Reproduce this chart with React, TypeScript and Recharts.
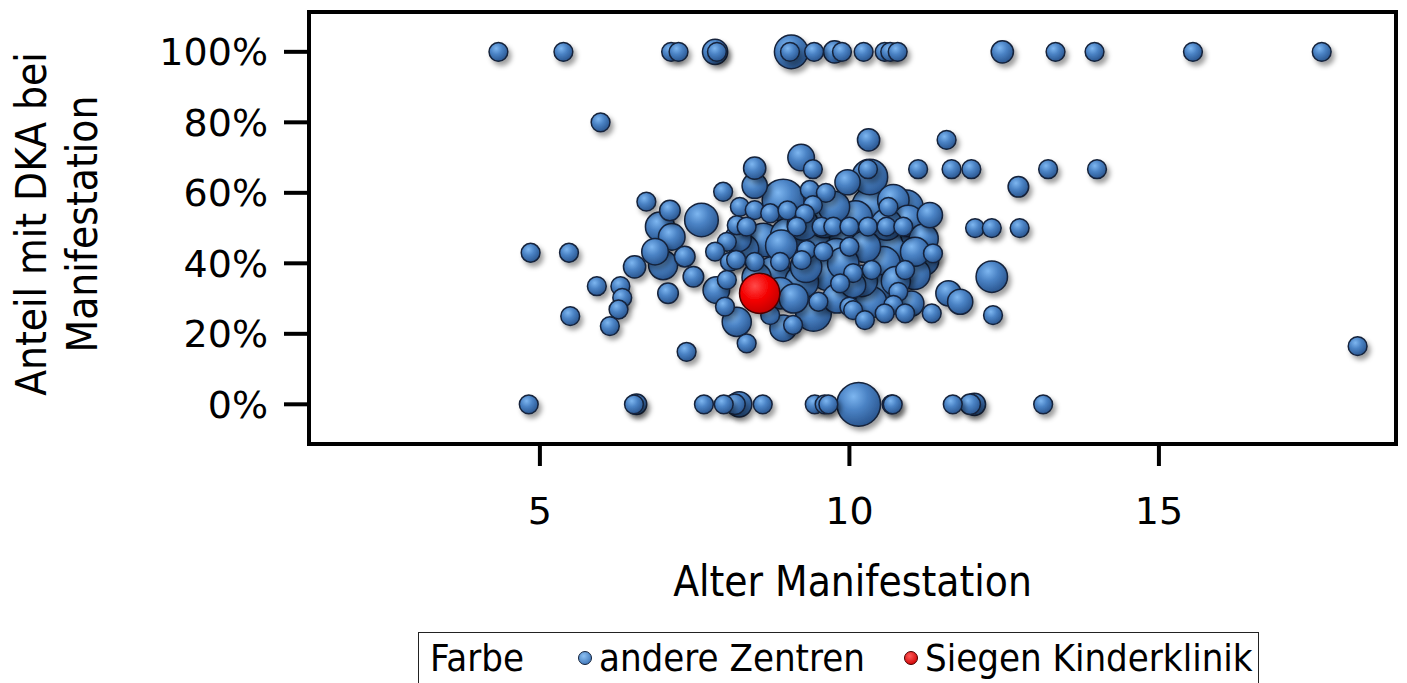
import { ScatterChart, Scatter, XAxis, YAxis, ZAxis, ReferenceArea, Legend } from 'recharts'

// [Alter bei Manifestation, Anteil DKA in %, Anzahl Patienten]
const andereZentren: [number, number, number][] = [
  // 100 %
  [4.33, 100, 5], [5.38, 100, 5], [7.12, 100, 5], [7.24, 100, 5], [7.83, 100, 9], [7.86, 100, 5],
  [9.06, 100, 16], [9.04, 100, 5], [9.43, 100, 5], [9.76, 100, 7], [9.88, 100, 5], [10.23, 100, 5],
  [10.57, 100, 5], [10.66, 100, 5], [10.78, 100, 5], [12.47, 100, 7], [13.33, 100, 5], [13.96, 100, 5],
  [15.55, 100, 5], [17.63, 100, 5],
  // 60 - 80 %
  [5.98, 80, 5], [10.31, 75, 7], [11.57, 75, 5], [9.22, 70, 10], [9.41, 66.7, 5], [8.47, 67, 7],
  [10.3, 66.7, 5], [11.11, 66.7, 5], [11.65, 66.7, 5], [11.97, 66.7, 5], [13.21, 66.7, 5], [14.0, 66.7, 5],
  [10.33, 64.5, 18], [8.47, 62, 9], [12.73, 61.7, 6], [9.97, 63, 9], [7.96, 60.3, 5], [9.36, 60.8, 5],
  [9.62, 60, 5],
  // 45 - 58 %
  [6.72, 57.5, 5], [8.93, 57.9, 25], [9.41, 56.5, 5], [10.38, 56, 25], [10.71, 57.9, 14], [10.92, 56, 16],
  [10.63, 56, 5], [8.23, 56, 5], [7.1, 55, 6], [8.47, 55.1, 5], [8.72, 54.2, 5], [9.0, 55, 5],
  [9.28, 54, 5], [11.3, 53.7, 9], [7.61, 52.3, 16], [6.94, 50.4, 12], [8.18, 50.8, 5], [8.34, 50.4, 5],
  [9.15, 50.4, 5], [9.55, 50.4, 5], [9.74, 50.4, 5], [10.0, 50.4, 5], [10.3, 50.4, 5], [10.6, 50.4, 5],
  [10.87, 50.4, 5], [12.03, 50, 5], [12.3, 50, 5], [12.75, 50, 5], [11.08, 48.5, 14], [7.13, 47.5, 10],
  [8.61, 46.6, 16], [8.02, 46.1, 5], [9.5, 47, 18], [9.95, 47, 16], [10.4, 48, 18], [9.25, 51, 14],
  [9.75, 56, 14], [10.95, 52, 14], [9.0, 48, 16], [9.6, 52, 16], [10.1, 53, 16], [10.6, 51, 14],
  [8.2, 47, 10], [11.2, 47, 12],
  // 36 - 45 %
  [10.0, 44.7, 5], [10.25, 44.7, 14], [10.74, 44.7, 18], [9.31, 43.8, 5], [9.58, 43.3, 5], [7.83, 43.3, 5],
  [6.86, 43.3, 10], [11.06, 43.3, 12], [4.85, 43, 5], [5.47, 43, 5], [7.34, 41.9, 6], [11.35, 42.8, 5],
  [9.79, 42.3, 16], [8.07, 40.4, 5], [8.47, 40.4, 5], [8.88, 40.4, 5], [9.23, 40.9, 5], [11.19, 40.9, 14],
  [6.99, 39.5, 12], [6.53, 39, 7], [8.17, 41, 5], [10.36, 38.1, 5], [10.9, 38.1, 5], [8.77, 37.2, 16],
  [10.06, 37.2, 5], [8.9, 45, 14], [8.3, 44, 12], [9.65, 37, 16], [10.55, 40, 16], [11.05, 37, 14],
  [9.3, 39, 14], [9.9, 40, 14], [8.5, 36, 12],
  // 20 - 36 %
  [7.48, 36.2, 6], [12.3, 36.2, 14], [8.02, 35.3, 5], [9.23, 34.8, 16], [9.85, 34.3, 5], [10.06, 33.8, 9],
  [5.92, 33.5, 5], [6.3, 33.5, 5], [7.85, 32.4, 10], [10.0, 32.4, 16], [10.49, 32.4, 14], [10.79, 31.9, 5],
  [7.07, 31.5, 6], [8.88, 31.5, 14], [11.6, 31.5, 9], [6.33, 30.2, 5], [9.5, 29.1, 5], [11.79, 29.1, 9],
  [11.0, 28.6, 9], [10.71, 28.2, 5], [7.99, 27.7, 5], [10.0, 27.7, 5], [6.27, 26.9, 5], [10.06, 26.7, 5],
  [9.42, 25.8, 18], [10.57, 25.8, 5], [10.9, 25.8, 5], [11.33, 25.8, 5], [5.49, 25, 5], [8.72, 25.3, 5],
  [12.32, 25.3, 5], [10.25, 23.9, 5], [6.13, 22.2, 5], [8.18, 23.4, 12], [8.93, 21.6, 10], [9.09, 22.5, 5],
  [9.1, 30, 12], [10.35, 29, 14], [10.75, 35, 12], [10.2, 35, 14], [9.8, 30, 12],
  // unter 20 %
  [8.34, 17.3, 5], [18.21, 16.5, 5], [7.37, 14.9, 5],
  // 0 %
  [4.82, 0, 5], [6.52, 0, 5], [6.56, 0, 6], [7.65, 0, 5], [7.97, 0, 5], [8.15, 0, 6], [8.22, 0, 9],
  [8.6, 0, 5], [9.44, 0, 5], [9.6, 0, 5], [9.66, 0, 5], [10.15, 0, 27], [10.68, 0, 5], [10.7, 0, 5],
  [11.67, 0, 5], [11.95, 0, 6], [12.02, 0, 7], [13.13, 0, 5],
]

const siegenKinderklinik: [number, number, number][] = [[8.55, 31.5, 23]]

const legendOrder = ['andere Zentren', 'Siegen Kinderklinik']
const xTicks = [5, 10, 15]
const yTicks = [0, 20, 40, 60, 80, 100]
const xDomain: [number, number] = [1.27, 18.83]
const yDomain: [number, number] = [-11.26, 111.3]

const BLUE = '#4a82c4'
const RED = '#ff0000'

const toPoints = (rows: [number, number, number][]) =>
  rows
    .map(([age, share, n]) => ({ age, share, n }))
    .sort((a, b) => b.n - a.n)

const otherData = toPoints(andereZentren)
const siegenData = toPoints(siegenKinderklinik)

if (typeof document !== 'undefined') document.body.style.margin = '0'

function Bubble(props: any) {
  const { cx, cy, width, fill } = props
  const red = fill === RED
  return (
    <circle
      cx={cx}
      cy={cy}
      r={width / 2}
      fill={red ? 'url(#bubbleRed)' : 'url(#bubbleBlue)'}
      stroke={red ? '#4a0000' : '#14223a'}
      strokeWidth={1.5}
      filter="url(#bubbleShadow)"
    />
  )
}

function LegendDot({ color }: { color: string }) {
  const red = color === RED
  const id = red ? 'legendRed' : 'legendBlue'
  return (
    <svg width={16} height={16} style={{ display: 'block' }}>
      <defs>
        <radialGradient id={id} cx="40%" cy="35%" r="70%">
          <stop offset="0%" stopColor={red ? '#ff5a5a' : '#8cc0f2'} />
          <stop offset="100%" stopColor={red ? '#d00000' : '#3d74b8'} />
        </radialGradient>
      </defs>
      <circle cx={8} cy={8} r={6.5} fill={`url(#${id})`} stroke={red ? '#4a0000' : '#14223a'} strokeWidth={1} />
    </svg>
  )
}

function LegendBox({ payload }: any) {
  const items = [...(payload ?? [])].sort(
    (a: any, b: any) => legendOrder.indexOf(a.value) - legendOrder.indexOf(b.value),
  )
  return (
    <div
      style={{
        boxSizing: 'border-box',
        width: 841,
        height: 51,
        border: '1.5px solid #222',
        borderBottom: 'none',
        display: 'flex',
        alignItems: 'center',
        paddingLeft: 11,
        fontFamily: 'DejaVu Sans Condensed',
        fontSize: 38,
        color: '#000',
        whiteSpace: 'nowrap',
      }}
    >
      <span style={{ width: 147, flex: 'none' }}>Farbe</span>
      {items.map((entry: any, i: number) => (
        <span
          key={entry.value}
          style={{ display: 'flex', alignItems: 'center', marginRight: i === 0 ? 38 : 0 }}
        >
          <LegendDot color={entry.color} />
          <span style={{ marginLeft: 6 }}>{entry.value}</span>
        </span>
      ))}
    </div>
  )
}

function YTitle() {
  const style = { fontFamily: 'DejaVu Sans Condensed', fontSize: 42, fill: '#000' }
  return (
    <g>
      <text transform="translate(46, 224) rotate(-90)" textAnchor="middle" {...style}>
        Anteil mit DKA bei
      </text>
      <text transform="translate(97, 224) rotate(-90)" textAnchor="middle" {...style}>
        Manifestation
      </text>
    </g>
  )
}

export default function App() {
  const tickStyle = { fontFamily: 'DejaVu Sans', fontSize: 38, fill: '#000' }
  return (
    <ScatterChart width={1407} height={683} margin={{ top: 12, right: 11, left: 0, bottom: 0 }}>
      <defs>
        <radialGradient id="bubbleBlue" cx="38%" cy="32%" r="72%">
          <stop offset="0%" stopColor="#7db6f0" />
          <stop offset="45%" stopColor="#4a82c4" />
          <stop offset="100%" stopColor="#28538c" />
        </radialGradient>
        <radialGradient id="bubbleRed" cx="38%" cy="32%" r="72%">
          <stop offset="0%" stopColor="#ff4a4a" />
          <stop offset="50%" stopColor="#f40000" />
          <stop offset="100%" stopColor="#c00000" />
        </radialGradient>
        <filter id="bubbleShadow" x="-50%" y="-50%" width="220%" height="220%">
          <feDropShadow dx={3} dy={4} stdDeviation={2.6} floodColor="#000" floodOpacity={0.38} />
        </filter>
      </defs>
      <XAxis
        type="number"
        dataKey="age"
        domain={xDomain}
        allowDataOverflow
        ticks={xTicks}
        height={239}
        axisLine={false}
        tickLine={{ stroke: '#000', strokeWidth: 4 }}
        tickSize={22}
        tickMargin={31}
        tick={tickStyle}
        label={{
          value: 'Alter Manifestation',
          position: 'insideTop',
          offset: 122,
          fontFamily: 'DejaVu Sans Condensed',
          fontSize: 42,
          fill: '#000',
        }}
      />
      <YAxis
        type="number"
        dataKey="share"
        domain={yDomain}
        allowDataOverflow
        ticks={yTicks}
        width={309}
        axisLine={false}
        tickLine={{ stroke: '#000', strokeWidth: 4 }}
        tickSize={25}
        tickMargin={16}
        tick={tickStyle}
        tickFormatter={(v: number) => `${v}%`}
        label={() => <YTitle />}
      />
      <ZAxis type="number" dataKey="n" domain={[0, 40]} range={[0, 2217]} />
      <ReferenceArea
        x1={xDomain[0]}
        x2={xDomain[1]}
        y1={yDomain[0]}
        y2={yDomain[1]}
        fill="none"
        stroke="#000"
        strokeWidth={4}
        ifOverflow="visible"
      />
      <Scatter
        name="andere Zentren"
        data={otherData}
        fill={BLUE}
        legendType="circle"
        shape={(p: any) => <Bubble {...p} />}
        isAnimationActive={false}
      />
      <Scatter
        name="Siegen Kinderklinik"
        data={siegenData}
        fill={RED}
        legendType="circle"
        shape={(p: any) => <Bubble {...p} />}
        isAnimationActive={false}
      />
      <Legend
        layout="horizontal"
        verticalAlign="middle"
        align="center"
        wrapperStyle={{ left: 418, top: 632, width: 841 }}
        content={(props: any) => <LegendBox payload={props.payload} />}
      />
    </ScatterChart>
  )
}
